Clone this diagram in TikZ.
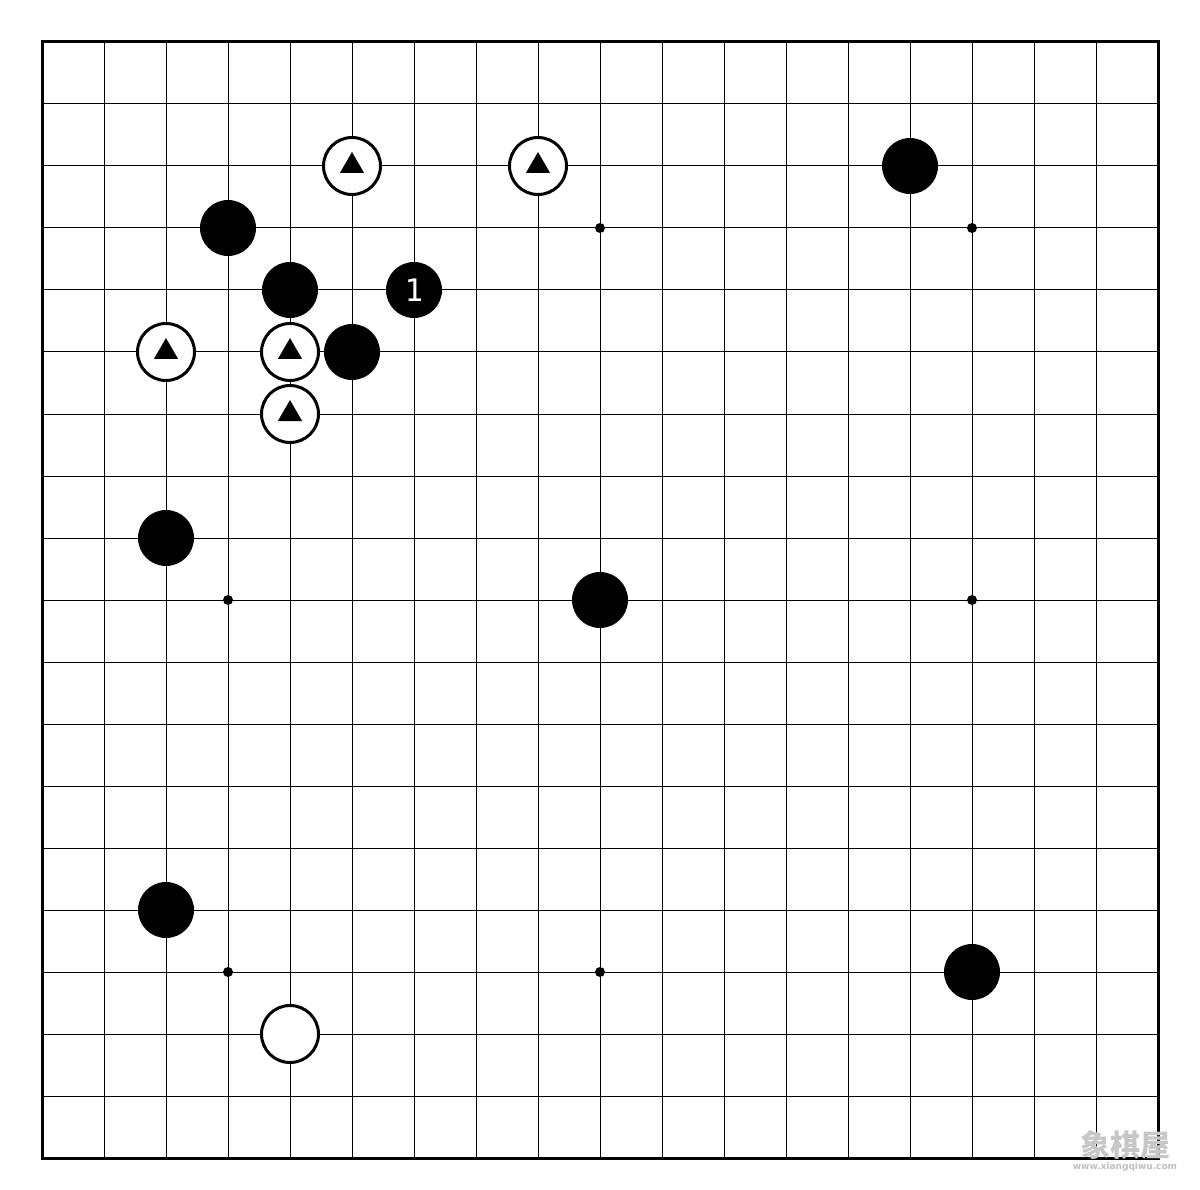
\documentclass[tikz,border=0pt]{standalone}
\usepackage{fontspec}
\newfontfamily\monofont{DejaVu Sans Mono}
\newfontfamily\cjk{Noto Sans CJK SC}
\newfontfamily\sansf{DejaVu Sans}
\usetikzlibrary{shapes.geometric}
\tikzset{
  gridline/.style={line width=1pt, black},
  borderline/.style={line width=3pt, black},
  blackstone/.style={circle, fill=black, minimum size=56pt, inner sep=0pt},
  whitestone/.style={circle, fill=white, draw=black, line width=3pt, minimum size=57pt, inner sep=0pt},
  tri/.style={regular polygon, regular polygon sides=3, fill=black, minimum size=28pt, inner sep=0pt},
  hoshi/.style={circle, fill=black, minimum size=10pt, inner sep=0pt},
}
\begin{document}
\begin{tikzpicture}[x=1pt,y=-1pt]
\useasboundingbox[fill=white] (0,0) rectangle (1200,1190);
% grid
\foreach \i in {1,...,17} {
  \draw[gridline] (42+62*\i,42) -- (42+62*\i,1158);
  \draw[gridline] (42,42+62*\i) -- (1158,42+62*\i);
}
\draw[borderline] (42,42) rectangle (1158,1158);
% star points
\foreach \c/\r [count=\k] in {9/3,15/3,3/9,15/9,3/15,9/15} {
  \node[hoshi] (h\k) at (42+62*\c,42+62*\r) {};
}
% black stones
\node[blackstone] (b1) at (42+62*14,42+62*2) {};
\node[blackstone] (b2) at (42+62*3,42+62*3) {};
\node[blackstone] (b3) at (42+62*4,42+62*4) {};
\node[blackstone,text=white,font=\monofont\fontsize{31}{31}\selectfont] (b4) at (42+62*6,42+62*4) {1};
\node[blackstone] (b5) at (42+62*5,42+62*5) {};
\node[blackstone] (b6) at (42+62*2,42+62*8) {};
\node[blackstone] (b7) at (42+62*9,42+62*9) {};
\node[blackstone] (b8) at (42+62*2,42+62*14) {};
\node[blackstone] (b9) at (42+62*15,42+62*15) {};
% white stones
\foreach \c/\r [count=\k] in {5/2,8/2,2/5,4/5,4/6} {
  \node[whitestone] (w\k) at (42+62*\c,42+62*\r) {};
  \node[tri] (t\k) at (w\k.center) {};
}
\node[whitestone] (w6) at (42+62*4,42+62*16) {};
% watermark
\node[text=black!22, font=\cjk\bfseries\fontsize{30}{30}\selectfont, inner sep=0pt] (wm1) at (1125,1145) {象棋屋};
\node[text=black!25, font=\sansf\bfseries\fontsize{9}{9}\selectfont, inner sep=0pt] (wm2) at (1125,1167) {www.xiangqiwu.com};
\end{tikzpicture}
\end{document}
